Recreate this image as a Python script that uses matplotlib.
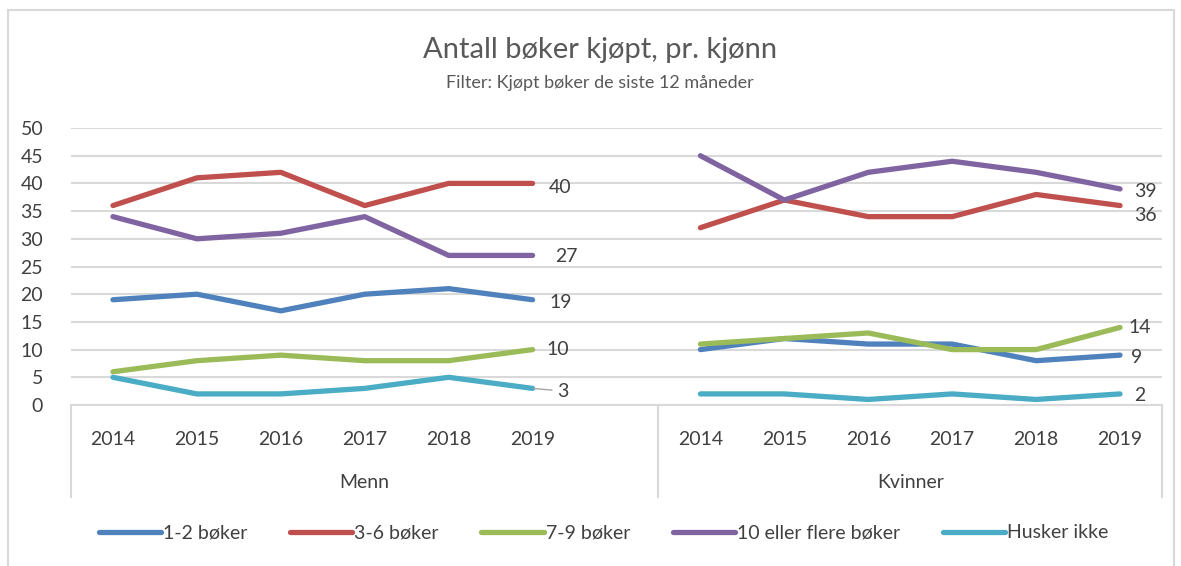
import matplotlib.pyplot as plt
from matplotlib.patches import Rectangle
import matplotlib.transforms as mtransforms

plt.rcParams['font.family'] = ['Lato', 'DejaVu Sans']

years = ['2014', '2015', '2016', '2017', '2018', '2019']
groups = ['Menn', 'Kvinner']
series_names = ['1-2 bøker', '3-6 bøker', '7-9 bøker', '10 eller flere bøker', 'Husker ikke']

menn = {
    '1-2 bøker': [19, 20, 17, 20, 21, 19],
    '3-6 bøker': [36, 41, 42, 36, 40, 40],
    '7-9 bøker': [6, 8, 9, 8, 8, 10],
    '10 eller flere bøker': [34, 30, 31, 34, 27, 27],
    'Husker ikke': [5, 2, 2, 3, 5, 3],
}
kvinner = {
    '1-2 bøker': [10, 12, 11, 11, 8, 9],
    '3-6 bøker': [32, 37, 34, 34, 38, 36],
    '7-9 bøker': [11, 12, 13, 10, 10, 14],
    '10 eller flere bøker': [45, 37, 42, 44, 42, 39],
    'Husker ikke': [2, 2, 1, 2, 1, 2],
}

colors = ['#4F81BD', '#C0504D', '#9BBB59', '#8064A2', '#4BACC6']
# label offsets (points) for end labels: menn, kvinner
off_menn = [(12, -2), (12, -3), (10, 0), (16, -1), (18, -2)]
off_kvinner = [(8, -2), (10, -7), (6, 0), (10, -2), (10, -1)]
text_col = '#404040'

fig = plt.figure(figsize=(11.81, 5.66), dpi=100)
fig.patches.append(Rectangle((8 / 1181, -0.05), 1166 / 1181, 1 - 10 / 566 + 0.05,
                             transform=fig.transFigure, fill=False,
                             edgecolor='#D9D9D9', linewidth=1.5))

ax = fig.add_axes([71 / 1181, 1 - 405 / 566, 1091 / 1181, 277 / 566])

x_menn = list(range(6))
x_kvinner = list(range(7, 13))
lw = 3.8
for i, name in enumerate(series_names):
    ax.plot(x_menn, menn[name], color=colors[i], linewidth=lw,
            solid_capstyle='round', solid_joinstyle='round', label=name)
    ax.plot(x_kvinner, kvinner[name], color=colors[i], linewidth=lw,
            solid_capstyle='round', solid_joinstyle='round')
    v = menn[name][-1]
    if name == 'Husker ikke':
        ax.annotate(str(v), (x_menn[-1], v), xytext=off_menn[i], textcoords='offset points',
                    ha='left', va='center', fontsize=14, color=text_col,
                    arrowprops=dict(arrowstyle='-', color='#A6A6A6', lw=1,
                                    shrinkA=2, shrinkB=1))
    else:
        ax.annotate(str(v), (x_menn[-1], v), xytext=off_menn[i], textcoords='offset points',
                    ha='left', va='center', fontsize=14, color=text_col)
    v = kvinner[name][-1]
    ax.annotate(str(v), (x_kvinner[-1], v), xytext=off_kvinner[i], textcoords='offset points',
                ha='left', va='center', fontsize=14, color=text_col)

ax.set_xlim(-0.5, 12.5)
ax.set_ylim(0, 50)
ax.set_yticks(range(0, 51, 5))
ax.set_xticks(x_menn + x_kvinner)
ax.set_xticklabels(years + years)
ax.tick_params(axis='both', length=0, labelsize=14, labelcolor=text_col)
ax.tick_params(axis='x', pad=19)
ax.tick_params(axis='y', pad=20)
ax.grid(axis='y', color='#D9D9D9', linewidth=1.5)
ax.set_axisbelow(True)
for s in ['top', 'right', 'left']:
    ax.spines[s].set_visible(False)
ax.spines['bottom'].set_color('#D9D9D9')
ax.spines['bottom'].set_linewidth(1.5)

trans = mtransforms.blended_transform_factory(ax.transData, ax.transAxes)
for xs in [-0.5, 6.5, 12.5]:
    ax.plot([xs, xs], [0, -92 / 277], color='#D9D9D9', linewidth=1.5,
            transform=trans, clip_on=False)
ax.text(3, -78 / 277, groups[0], transform=trans, ha='center', va='center',
        fontsize=14, color=text_col)
ax.text(9.5, -78 / 277, groups[1], transform=trans, ha='center', va='center',
        fontsize=14, color=text_col)

fig.text(0.508, 1 - 50 / 566, 'Antall bøker kjøpt, pr. kjønn', ha='center', va='center',
         fontsize=21, color='#595959')
fig.text(0.508, 1 - 83 / 566, 'Filter: Kjøpt bøker de siste 12 måneder', ha='center',
         va='center', fontsize=13, color='#595959')

fig.legend(loc='center', bbox_to_anchor=(0.511, 1 - 533 / 566), ncol=5, frameon=False,
           fontsize=14, handlelength=3.2, handletextpad=0.1, columnspacing=2.2,
           labelcolor=text_col)

fig.savefig('out.png', dpi=100)
